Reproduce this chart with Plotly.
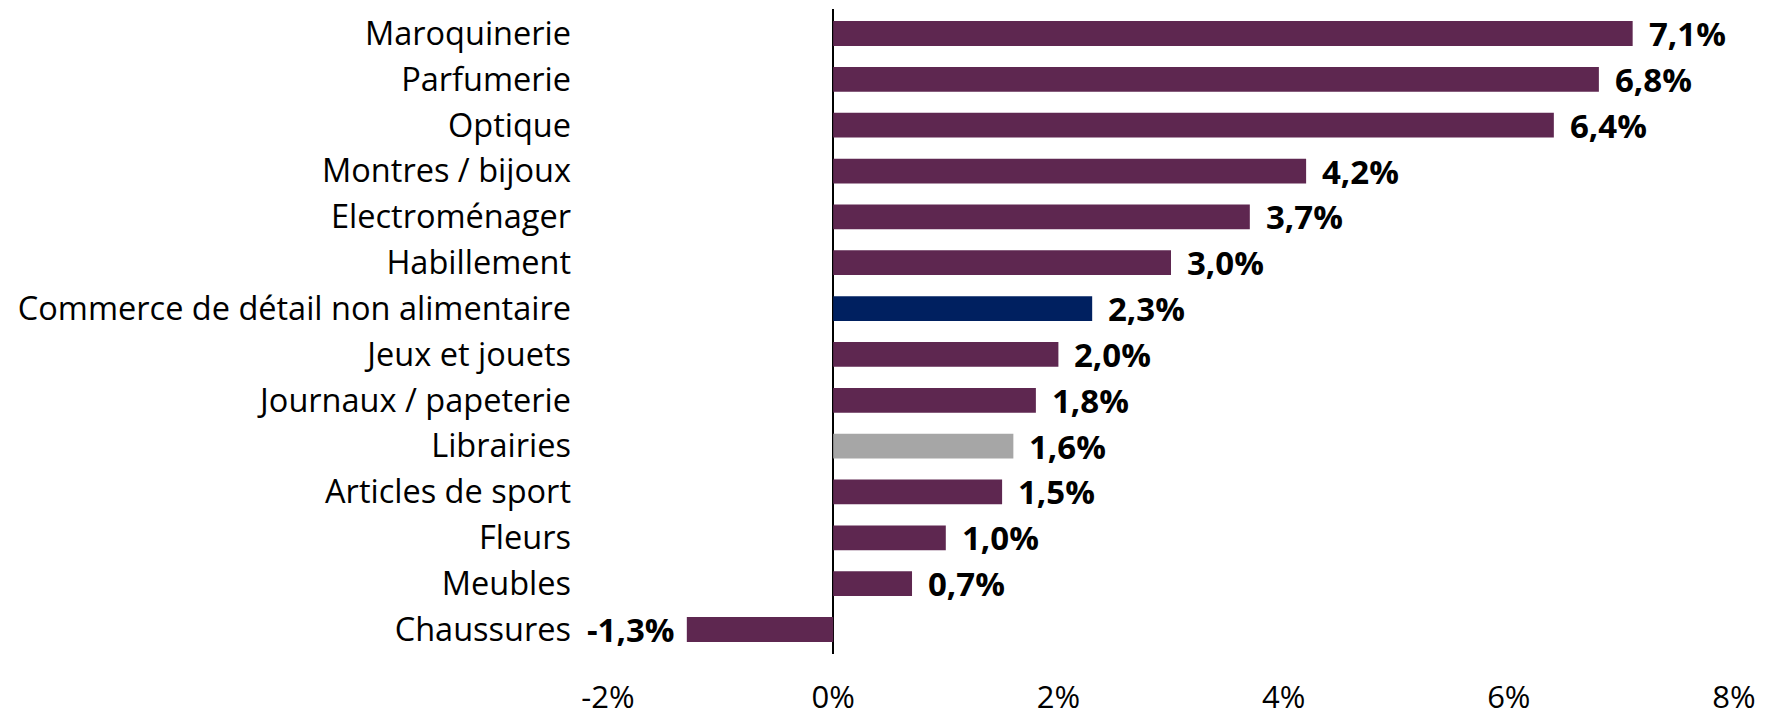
import plotly.graph_objects as go

categories = ["Maroquinerie", "Parfumerie", "Optique", "Montres / bijoux", "Electroménager",
              "Habillement", "Commerce de détail non alimentaire", "Jeux et jouets",
              "Journaux / papeterie", "Librairies", "Articles de sport", "Fleurs",
              "Meubles", "Chaussures"]
values = [7.1, 6.8, 6.4, 4.2, 3.7, 3.0, 2.3, 2.0, 1.8, 1.6, 1.5, 1.0, 0.7, -1.3]
bar_colors = ["#5E2750"] * 6 + ["#002060"] + ["#5E2750"] * 2 + ["#A6A6A6"] + ["#5E2750"] * 4
tick_vals = [-2, 0, 2, 4, 6, 8]
tick_text = ["-2%", "0%", "2%", "4%", "6%", "8%"]

FONT = "Open Sans, Lato, sans-serif"

fig = go.Figure()
fig.add_trace(go.Bar(x=values, y=categories, orientation="h",
                     marker=dict(color=bar_colors, line=dict(width=0)),
                     width=0.54, hoverinfo="skip"))

# labels de valeur en gras, à côté de chaque barre
for cat, v in zip(categories, values):
    fig.add_annotation(x=v, y=cat, text="<b>" + f"{v:.1f}".replace(".", ",") + "%</b>",
                       showarrow=False, xanchor="left" if v >= 0 else "right",
                       xshift=14 if v >= 0 else -10,
                       font=dict(family=FONT, size=33, color="black"))

# la page ajoute une marge de 8px autour du graphique
fig.update_layout(
    width=1763, height=708,
    margin=dict(l=600, r=37, t=1, b=62),
    plot_bgcolor="white", paper_bgcolor="white",
    showlegend=False,
    font=dict(family=FONT, size=32.5, color="black"),
    xaxis=dict(range=[-2, 8], tickvals=tick_vals, ticktext=tick_text, automargin=False,
               showgrid=False, zeroline=True, zerolinecolor="black", zerolinewidth=1.5,
               showline=False, ticks="", ticklabelstandoff=22, tickfont=dict(size=31)),
    yaxis=dict(autorange="reversed", showgrid=False, zeroline=False, showline=False,
               automargin=False, ticks="", ticklabelstandoff=36),
)

fig.write_html("out.html")
